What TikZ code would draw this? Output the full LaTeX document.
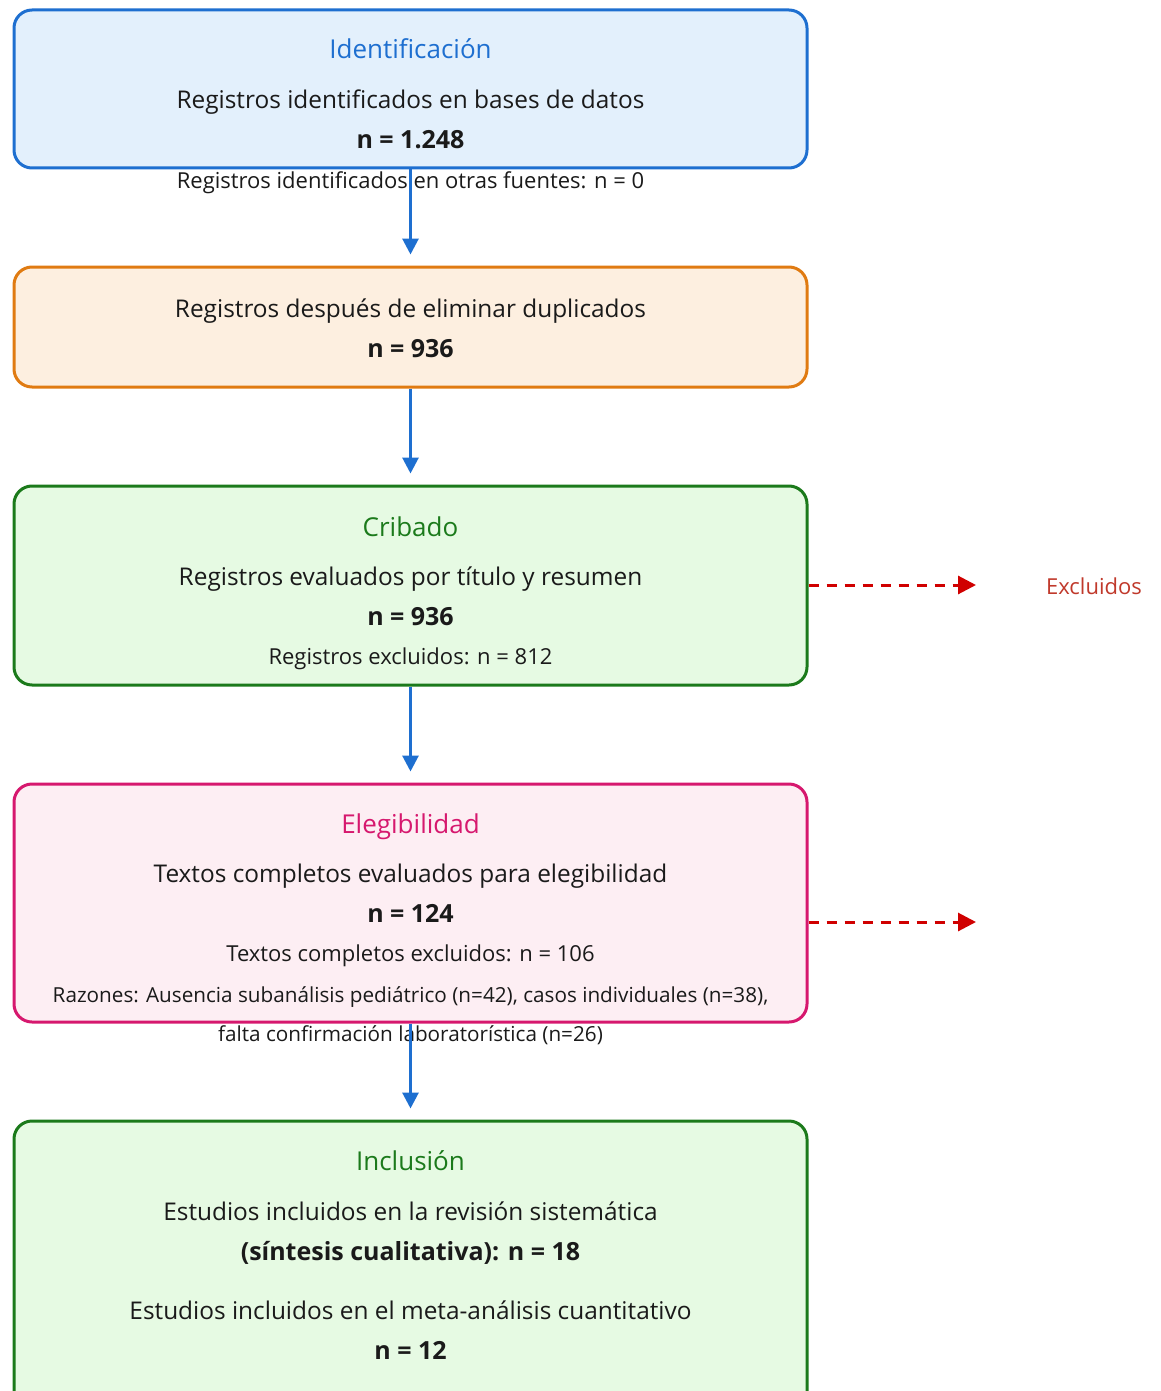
\documentclass[tikz,border=0pt]{standalone}
\usepackage{fontspec}
\setmainfont{Open Sans}
\usetikzlibrary{arrows.meta}
\definecolor{bBlue}{HTML}{1E6FD0}
\definecolor{fBlue}{HTML}{E3F0FC}
\definecolor{bOrange}{HTML}{E07B12}
\definecolor{fOrange}{HTML}{FDEFE0}
\definecolor{bGreen}{HTML}{1B7A1B}
\definecolor{fGreen}{HTML}{E6FAE3}
\definecolor{bPink}{HTML}{D6186E}
\definecolor{fPink}{HTML}{FDEEF3}
\definecolor{exRed}{HTML}{D00000}
\definecolor{exText}{HTML}{C0392B}
\definecolor{txt}{HTML}{1A1A1A}
\tikzset{
  stage/.style={draw, line width=3pt, rounded corners=18pt, minimum width=793pt, inner sep=0pt},
  ttl/.style={font=\fontsize{26}{30}\selectfont, text height=18pt, text depth=0pt, inner sep=0pt},
  body/.style={font=\fontsize{24.4}{28}\selectfont, text=txt, text height=17pt, text depth=0pt, inner sep=0pt},
  num/.style={font=\fontsize{25}{28}\selectfont\bfseries, text=txt, text height=17pt, text depth=0pt, inner sep=0pt},
  small/.style={font=\fontsize{22}{26}\selectfont, text=txt, text height=15.5pt, text depth=0pt, inner sep=0pt},
  tiny/.style={font=\fontsize{20.7}{24}\selectfont, text=txt, text height=15pt, text depth=0pt, inner sep=0pt},
  flow/.style={draw=bBlue, line width=3pt, -{Triangle[length=16pt,width=16pt]}, shorten >=11pt},
  excl/.style={draw=exRed, line width=3pt, dash pattern=on 10pt off 8pt, -{Triangle[length=18pt,width=18pt]}}
}
\begin{document}
\begin{tikzpicture}[x=1pt,y=-1pt]
\useasboundingbox (0,0) rectangle (1160,1391);
\clip (0,0) rectangle (1160,1391);
% boxes
\node[stage, draw=bBlue, fill=fBlue, minimum height=158pt] (b1) at (410.5,89) {};
\node[stage, draw=bOrange, fill=fOrange, minimum height=120pt] (b2) at (410.5,327) {};
\node[stage, draw=bGreen, fill=fGreen, minimum height=199pt] (b3) at (410.5,585.5) {};
\node[stage, draw=bPink, fill=fPink, minimum height=238pt] (b4) at (410.5,903) {};
\node[stage, draw=bGreen, fill=fGreen, minimum height=290pt] (b5) at (410.5,1266) {};
% texts box 1
\node[ttl, text=bBlue] (t1) at (410.5,50) {Identificación};
\node[body] (t1a) at (410.5,100) {Registros identificados en bases de datos};
\node[num] (t1b) at (410.5,140) {n = 1.248};
\node[small] (t1c) at (410.5,181) {Registros identificados en otras fuentes: n = 0};
% box 2
\node[body] (t2a) at (410.5,309) {Registros después de eliminar duplicados};
\node[num] (t2b) at (410.5,349) {n = 936};
% box 3
\node[ttl, text=bGreen] (t3) at (410.5,527) {Cribado};
\node[body] (t3a) at (410.5,577) {Registros evaluados por título y resumen};
\node[num] (t3b) at (410.5,617) {n = 936};
\node[small] (t3c) at (410.5,657) {Registros excluidos: n = 812};
% box 4
\node[ttl, text=bPink] (t4) at (410.5,824) {Elegibilidad};
\node[body] (t4a) at (410.5,874) {Textos completos evaluados para elegibilidad};
\node[num] (t4b) at (410.5,914) {n = 124};
\node[small] (t4c) at (410.5,954) {Textos completos excluidos: n = 106};
\node[tiny] (t4d) at (410.5,995) {Razones: Ausencia subanálisis pediátrico (n=42), casos individuales (n=38),};
\node[tiny] (t4e) at (410.5,1034) {falta confirmación laboratorística (n=26)};
% box 5
\node[ttl, text=bGreen] (t5) at (410.5,1161) {Inclusión};
\node[body] (t5a) at (410.5,1212) {Estudios incluidos en la revisión sistemática};
\node[num] (t5b) at (410.5,1252) {(síntesis cualitativa): n = 18};
\node[body] (t5c) at (410.5,1311) {Estudios incluidos en el meta-análisis cuantitativo};
\node[num] (t5d) at (410.5,1351) {n = 12};
% excluded label
\node[small, text=exText] (ex) at (1094,587) {Excluidos};
\coordinate (e1) at (976,585);
\coordinate (e2) at (976,922);
% connectors
\draw[flow] (b1.south) -- (b2.north);
\draw[flow] (b2.south) -- (b3.north);
\draw[flow] (b3.south) -- (b4.north);
\draw[flow] (b4.south) -- (b5.north);
\draw[excl] (b3.east |- e1) -- (e1);
\draw[excl] (b4.east |- e2) -- (e2);
\end{tikzpicture}
\end{document}
